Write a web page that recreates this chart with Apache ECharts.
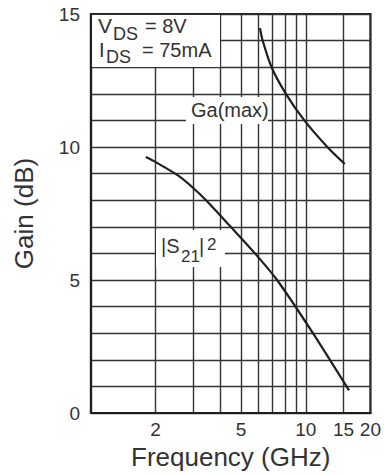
<!DOCTYPE html>
<html>
<head>
<meta charset="utf-8">
<script src="https://cdn.jsdelivr.net/npm/echarts@6/dist/echarts.min.js"></script>
<style>
html,body{margin:0;padding:0;background:#fff;}
#c{width:384px;height:475px;}
</style>
</head>
<body>
<div id="c"></div>
<script>
// Data
var s21Freq = [1.8, 2, 2.54, 3, 3.45, 4.45, 5.8, 7.35, 10.7, 15.9];
var s21Gain = [9.62, 9.43, 8.93, 8.45, 7.98, 7.02, 6.0, 5.0, 3.05, 0.85];
var gaFreq = [6.12, 6.3, 6.93, 8.08, 9.85, 12.6, 15.2];
var gaGain = [14.47, 14.0, 13.0, 12.0, 11.0, 10.0, 9.36];
var xGridValues = [2, 3, 4, 5, 6, 7, 8, 9, 10, 15, 20];
var xTickLabels = [2, 5, 10, 15, 20];
var yTickLabels = [0, 5, 10, 15];

function pairs(xs, ys) { return xs.map(function (x, i) { return [x, ys[i]]; }); }

var FONT = 'Liberation Sans, Arial, sans-serif';
var TXT = '#333';
var LINE = '#333';

var chart = echarts.init(document.getElementById('c'), null, { renderer: 'svg' });

function t(text, x, y, size) {
  return { type: 'text', z: 101, style: { text: text, x: x, y: y, fill: TXT,
    font: size + 'px ' + FONT, textVerticalAlign: 'middle', textAlign: 'left' } };
}
function box(x, y, w, h) {
  return { type: 'rect', z: 100, shape: { x: x, y: y, width: w, height: h }, style: { fill: '#fff' } };
}

chart.setOption({
  animation: false,
  backgroundColor: '#fff',
  grid: { left: 91, right: 12, top: 14, bottom: 62, show: true, borderColor: '#1e1e1e', borderWidth: 2.2, backgroundColor: 'transparent' },
  xAxis: {
    type: 'log', logBase: 10, min: 1, max: 20,
    name: 'Frequency (GHz)', nameLocation: 'middle', nameGap: 29,
    nameTextStyle: { fontSize: 26, color: TXT, fontFamily: FONT },
    axisLine: { show: true, lineStyle: { color: '#1e1e1e', width: 2.2 } },
    axisTick: { show: false, customValues: xGridValues },
    axisLabel: { customValues: xTickLabels, fontSize: 19, color: TXT, fontFamily: FONT, margin: 7 },
    splitLine: { show: true, lineStyle: { color: LINE, width: 1.4 } },
    minorSplitLine: { show: false }
  },
  yAxis: {
    type: 'value', min: 0, max: 15, interval: 1,
    name: 'Gain (dB)', nameLocation: 'middle', nameGap: 54,
    nameTextStyle: { fontSize: 26, color: TXT, fontFamily: FONT },
    axisLine: { show: true, lineStyle: { color: '#1e1e1e', width: 2.2 } },
    axisTick: { show: false },
    axisLabel: { fontSize: 19, color: TXT, fontFamily: FONT, margin: 11,
      formatter: function (v) { return yTickLabels.indexOf(v) >= 0 ? String(v) : ''; } },
    splitLine: { show: true, lineStyle: { color: LINE, width: 1.4 } }
  },
  series: [
    { name: '|S21|2', type: 'line', data: pairs(s21Freq, s21Gain), smooth: 0.3, showSymbol: false, z: 200,
      lineStyle: { color: '#1e1e1e', width: 2.2 } },
    { name: 'Ga(max)', type: 'line', data: pairs(gaFreq, gaGain), smooth: 0.3, showSymbol: false, z: 200,
      lineStyle: { color: '#1e1e1e', width: 2.2 } }
  ],
  graphic: [
    box(92, 15, 128, 52),
    t('V', 98, 25.7, 21),
    t('DS', 113, 33.5, 18),
    t('= 8V', 145, 25.7, 20),
    t('I', 99, 50, 20),
    t('DS', 106, 57, 18),
    t('= 75mA', 142, 50, 20),
    box(186, 97, 82, 27),
    t('Ga(max)', 191, 110, 20),
    box(156, 230, 69, 37),
    t('|S', 161, 245.8, 20),
    t('21', 181, 256, 17),
    t('|', 199, 245.8, 20),
    t('2', 207, 244, 17)
  ]
});
</script>
</body>
</html>
